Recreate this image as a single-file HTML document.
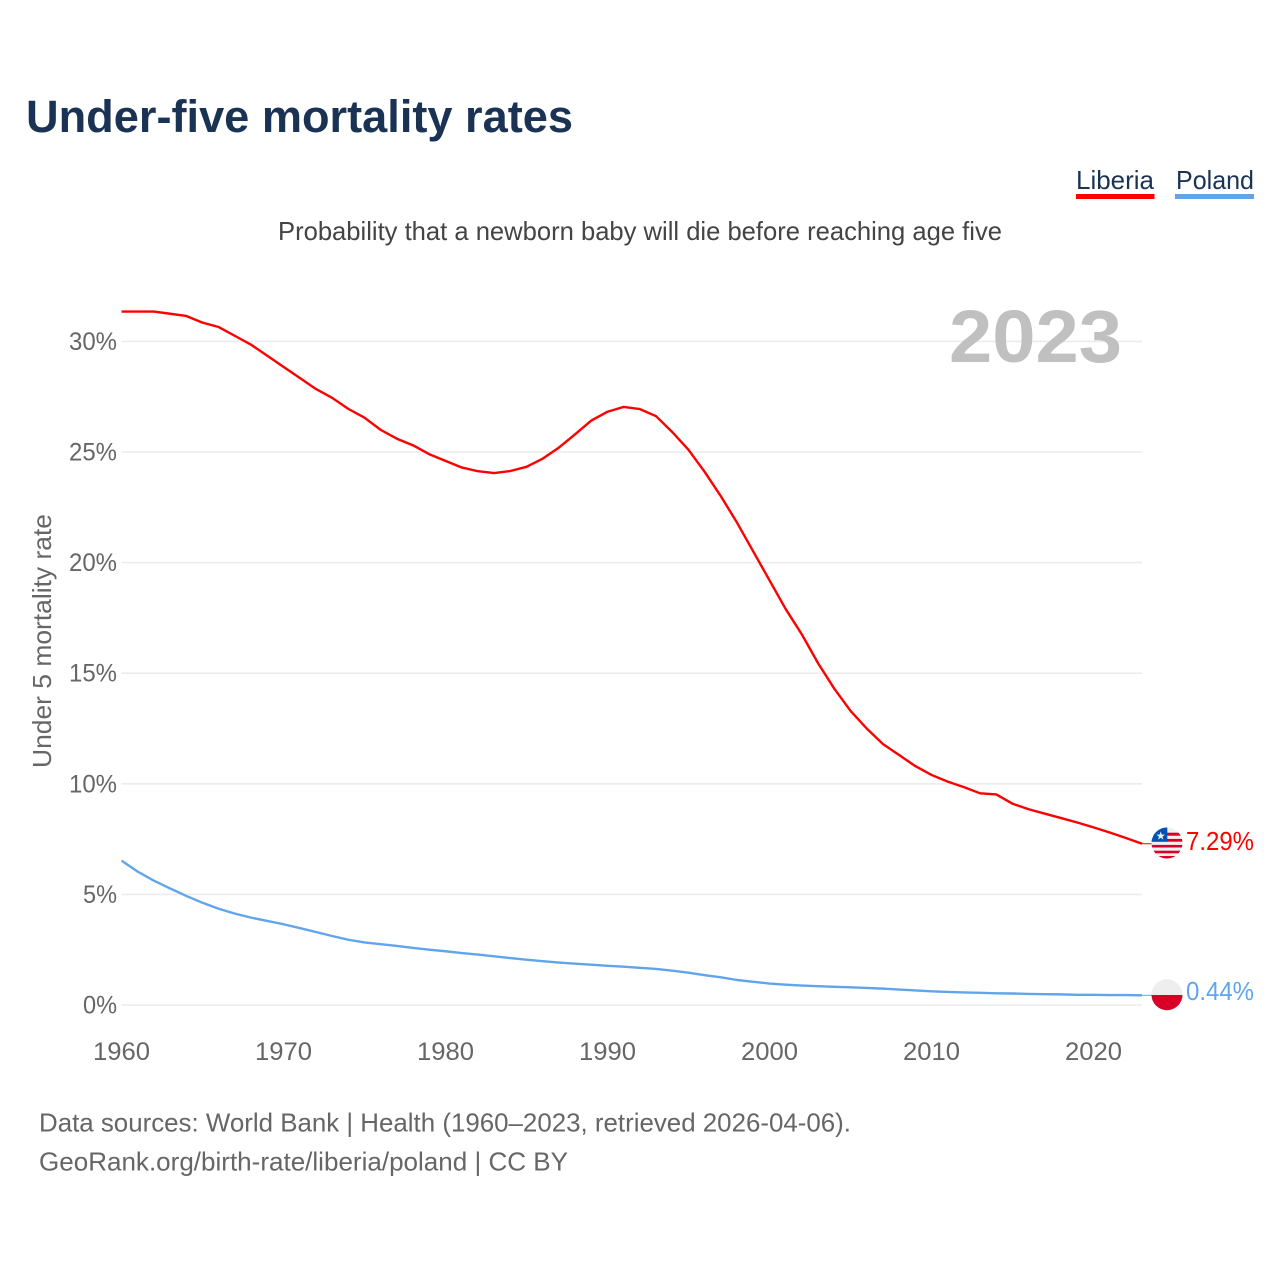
<!DOCTYPE html>
<html lang="en">
<head>
<meta charset="utf-8">
<title>Under-five mortality rates</title>
<style>
html,body{margin:0;padding:0;background:#fff;width:1280px;height:1280px;overflow:hidden}
svg{display:block}
text{font-family:"Liberation Sans",sans-serif}
</style>
</head>
<body>
<svg id="chart" xmlns="http://www.w3.org/2000/svg" width="1280" height="1280" viewBox="0 0 1280 1280">
  <defs>
    <clipPath id="clip-lr"><circle cx="1167" cy="843" r="15.5"/></clipPath>
    <clipPath id="clip-pl"><circle cx="1167" cy="994.7" r="15.5"/></clipPath>
  </defs>
  <text x="26" y="132" font-size="45" font-weight="700" fill="#1a3355" textLength="547" lengthAdjust="spacingAndGlyphs">Under-five mortality rates</text>
  <text x="278" y="240" font-size="26" fill="#444444" textLength="724" lengthAdjust="spacingAndGlyphs">Probability that a newborn baby will die before reaching age five</text>

  <g>
    <text x="1076" y="189" font-size="26" fill="#1a3355" textLength="78" lengthAdjust="spacingAndGlyphs">Liberia</text>
    <rect x="1076" y="194" width="78.5" height="5" fill="#ff0000"/>
  </g>
  <g>
    <text x="1176" y="189" font-size="26" fill="#1a3355" textLength="78" lengthAdjust="spacingAndGlyphs">Poland</text>
    <rect x="1175" y="194" width="79" height="5" fill="#60a5ec"/>
  </g>

  <g id="grid"></g>
  <text x="1122" y="362" font-size="74" font-weight="700" fill="#c0c0c0" text-anchor="end" textLength="173" lengthAdjust="spacingAndGlyphs">2023</text>
  <g id="yticks"></g>
  <g id="xticks"></g>
  <text transform="translate(51,768) rotate(-90)" font-size="26" fill="#666666" textLength="254" lengthAdjust="spacingAndGlyphs">Under 5 mortality rate</text>

  <g id="series"></g>

  <g id="end-markers">
    <g clip-path="url(#clip-lr)">
      <rect x="1151" y="827" width="32" height="32" fill="#f0f0f0"/>
      <rect x="1151" y="832.7" width="32" height="3" fill="#d80027"/>
      <rect x="1151" y="838.9" width="32" height="2.8" fill="#d80027"/>
      <rect x="1151" y="844.9" width="32" height="2.6" fill="#d80027"/>
      <rect x="1151" y="850.7" width="32" height="2.6" fill="#d80027"/>
      <rect x="1151" y="856" width="32" height="2.6" fill="#d80027"/>
      <rect x="1151" y="827" width="16.3" height="14.7" fill="#0052b4"/>
      <polygon points="1160.7,831.5 1161.8,834.6 1165,834.6 1162.4,836.6 1163.4,839.6 1160.7,837.8 1158,839.6 1159,836.6 1156.4,834.6 1159.6,834.6" fill="#f0f0f0"/>
    </g>
    <g clip-path="url(#clip-pl)">
      <rect x="1151" y="979" width="32" height="16" fill="#eeeeee"/>
      <rect x="1151" y="995" width="32" height="16" fill="#d80027"/>
    </g>
    <text id="label-liberia" x="1186" y="850" font-size="26" fill="#ff0000" textLength="68" lengthAdjust="spacingAndGlyphs"></text>
    <text id="label-poland" x="1186" y="1000" font-size="26" fill="#60a5ec" textLength="68" lengthAdjust="spacingAndGlyphs"></text>
  </g>

  <text x="39" y="1131.5" font-size="26" fill="#666666" textLength="812" lengthAdjust="spacingAndGlyphs">Data sources: World Bank | Health (1960–2023, retrieved 2026-04-06).</text>
  <text x="39" y="1170.5" font-size="26" fill="#666666" textLength="529" lengthAdjust="spacingAndGlyphs">GeoRank.org/birth-rate/liberia/poland | CC BY</text>
</svg>
<script>
const startYear = 1960;
const liberia = [31.35,31.35,31.35,31.25,31.15,30.85,30.65,30.25,29.85,29.35,28.85,28.35,27.85,27.45,26.95,26.55,26.0,25.6,25.3,24.9,24.6,24.3,24.13,24.05,24.14,24.33,24.7,25.2,25.8,26.42,26.82,27.04,26.94,26.62,25.9,25.1,24.1,23.0,21.8,20.5,19.2,17.9,16.75,15.45,14.3,13.3,12.5,11.8,11.3,10.8,10.4,10.1,9.85,9.57,9.52,9.1,8.85,8.65,8.45,8.25,8.03,7.8,7.55,7.29];
const poland = [6.53,6.03,5.62,5.27,4.93,4.62,4.35,4.13,3.95,3.8,3.65,3.48,3.3,3.12,2.95,2.83,2.75,2.67,2.58,2.5,2.43,2.35,2.28,2.2,2.12,2.05,1.98,1.92,1.87,1.82,1.77,1.73,1.68,1.63,1.55,1.46,1.35,1.25,1.13,1.05,0.97,0.92,0.88,0.85,0.82,0.8,0.77,0.74,0.7,0.66,0.62,0.59,0.57,0.55,0.53,0.52,0.5,0.49,0.48,0.46,0.46,0.45,0.45,0.44];
const yTickValues = [0,5,10,15,20,25,30];
const xTickValues = [1960,1970,1980,1990,2000,2010,2020];

const NS = 'http://www.w3.org/2000/svg';
function xScale(year){ return 121.5 + (year - 1960) * 16.2; }
function yScale(pct){ return 1005 - pct * 22.12; }
function make(tag, attrs, parent){
  const el = document.createElementNS(NS, tag);
  for (const k in attrs) el.setAttribute(k, attrs[k]);
  parent.appendChild(el);
  return el;
}

const grid = document.getElementById('grid');
const yticks = document.getElementById('yticks');
yTickValues.forEach(function(v){
  const line = make('line', {x1:121.5, x2:1142, y1:yScale(v), y2:yScale(v), stroke:'#ececec', 'stroke-width':1.6}, grid);
  
  
  const t = make('text', {x:117, y:yScale(v)+8.5, 'font-size':25, fill:'#666666', 'text-anchor':'end', textLength:(v < 10 ? 34 : 48), lengthAdjust:'spacingAndGlyphs'}, yticks);
  
  
  t.textContent = v + '%';
});

const xticks = document.getElementById('xticks');
xTickValues.forEach(function(v){
  const t = make('text', {x:xScale(v), y:1060, 'font-size':25, fill:'#666666', 'text-anchor':'middle', textLength:57, lengthAdjust:'spacingAndGlyphs'}, xticks);
  
  
  t.textContent = v;
});

function pathFor(values){
  return values.map(function(v,i){
    return (i ? 'L' : 'M') + xScale(startYear + i).toFixed(2) + ' ' + yScale(v).toFixed(2);
  }).join(' ');
}
const seriesGroup = document.getElementById('series');
const polandLine = make('path', {d:pathFor(poland), fill:'none', stroke:'#60a5ec', 'stroke-width':2.4, 'stroke-linejoin':'round'}, seriesGroup);


const liberiaLine = make('path', {d:pathFor(liberia), fill:'none', stroke:'#ff0000', 'stroke-width':2.4, 'stroke-linejoin':'round'}, seriesGroup);



const endYear = startYear + liberia.length - 1;
const leadL = make('line', {x1:xScale(endYear), x2:1152, y1:yScale(liberia[liberia.length-1]), y2:yScale(liberia[liberia.length-1]), stroke:'#ff0000', 'stroke-width':1}, seriesGroup);


const leadP = make('line', {x1:xScale(endYear), x2:1152, y1:yScale(poland[poland.length-1]), y2:yScale(poland[poland.length-1]), stroke:'#60a5ec', 'stroke-width':1}, seriesGroup);



document.getElementById('label-liberia').textContent = liberia[liberia.length-1].toFixed(2) + '%';
document.getElementById('label-poland').textContent = poland[poland.length-1].toFixed(2) + '%';
</script>
</body>
</html>
